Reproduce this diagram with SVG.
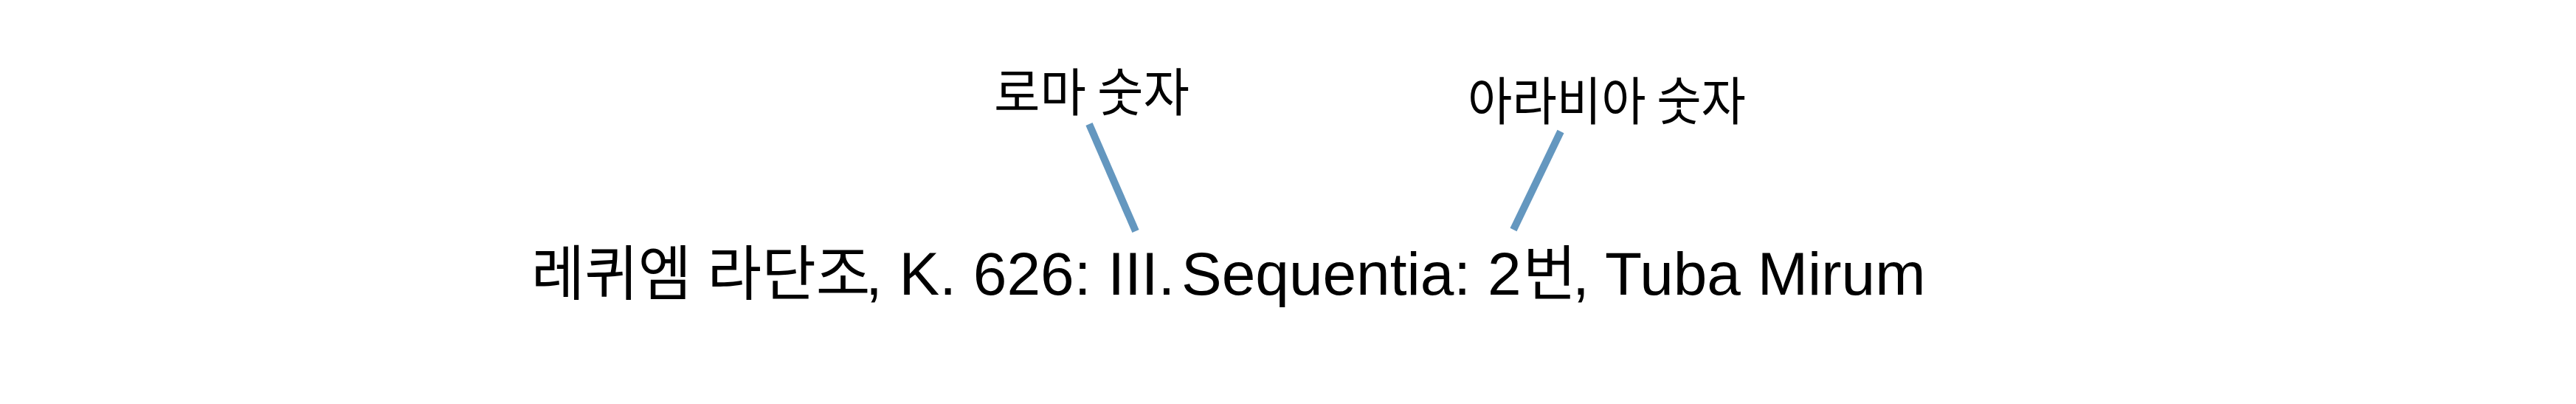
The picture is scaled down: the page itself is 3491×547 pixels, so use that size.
<svg xmlns="http://www.w3.org/2000/svg" width="3491" height="547" viewBox="0 0 3491 547">
  <style>
    .lat { font-family: "Liberation Sans", Arial, sans-serif; font-size: 82px; fill: #000; }
    .kor { font-family: "Noto Sans CJK KR", "Liberation Sans", sans-serif; font-size: 81px; fill: #000; }
    .lbl { font-family: "Noto Sans CJK KR", "Liberation Sans", sans-serif; font-size: 70px; fill: #000; }
    .conn { stroke: #6497bf; stroke-width: 10; stroke-linecap: butt; fill: none; }
  </style>
  <rect width="3491" height="547" fill="#ffffff"/>
  <g id="connectors">
    <line class="conn" x1="1476" y1="168" x2="1539" y2="313"/>
    <line class="conn" x1="2115" y1="178" x2="2051" y2="311"/>
  </g>
  <g id="title">
    <text class="kor" x="720" y="399" textLength="217" lengthAdjust="spacingAndGlyphs">레퀴엠</text>
    <text class="kor" x="958.5" y="399" textLength="221" lengthAdjust="spacingAndGlyphs">라단조</text>
    <text class="lat" x="1173" y="399">, K. 626: III. </text>
    <text class="lat" x="1601" y="399">Sequentia: 2</text>
    <text class="kor" x="2064" y="399" textLength="72" lengthAdjust="spacingAndGlyphs">번</text>
    <text class="lat" x="2131" y="399">, Tuba Mirum</text>
  </g>
  <g id="label-roman">
    <text class="lbl" x="1347" y="151" textLength="265" lengthAdjust="spacingAndGlyphs">로마 숫자</text>
  </g>
  <g id="label-arabic">
    <text class="lbl" x="1989" y="163" textLength="377" lengthAdjust="spacingAndGlyphs">아라비아 숫자</text>
  </g>
</svg>
